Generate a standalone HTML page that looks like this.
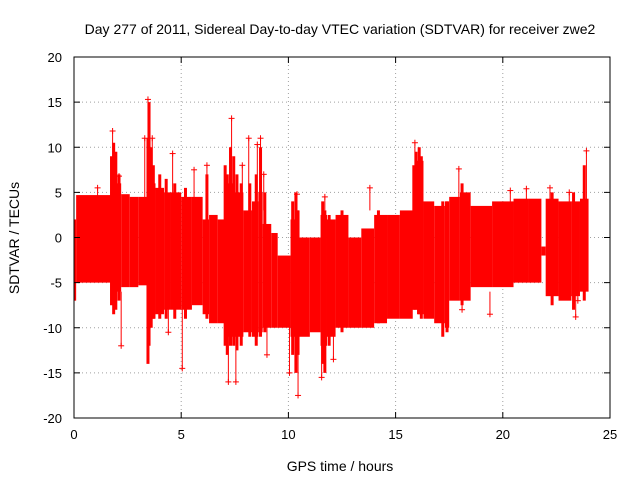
<!DOCTYPE html>
<html><head><meta charset="utf-8"><style>
body{margin:0;background:#fff;}
svg{display:block;font-family:"Liberation Sans",sans-serif;}
</style></head><body>
<svg id="chart" width="640" height="480"></svg>
<script>
// segments: start hour, end hour, upper, lower
const segStart=[0,0.1,1.7,1.8,2.0,2.2,2.6,3.0,3.4,3.55,3.8,4.2,4.5,5.0,5.5,6.0,6.3,6.7,7.0,7.2,7.5,7.9,8.3,8.6,8.8,9.2,9.5,10.1,10.3,10.5,11.0,11.5,11.8,12.2,12.8,13.4,14.0,14.6,15.2,15.8,16.0,16.3,16.8,17.3,17.5,18.0,18.5,19.5,20.5,21.2,21.8,22.0,22.6,23.2,23.6];
const segEnd  =[0.1,1.7,1.8,2.0,2.2,2.6,3.0,3.4,3.55,3.8,4.2,4.5,5.0,5.5,6.0,6.3,6.7,7.0,7.2,7.5,7.9,8.3,8.6,8.8,9.2,9.5,10.1,10.3,10.5,11.0,11.5,11.8,12.2,12.8,13.4,14.0,14.6,15.2,15.8,16.0,16.3,16.8,17.3,17.5,18.0,18.5,19.5,20.5,21.2,21.8,22.0,22.6,23.2,23.6,24.0];
const upper=[2,4.7,7,9,6,4.8,4.5,4.5,6,6,5.5,5,5,4.5,4.5,2,2.5,2,5,6,5,3,4,5,1.5,0.5,-2,2,3,0,0,2.5,2,2.5,0,1,2.5,2.5,3,6,8.5,4,3.5,4,4.5,5,3.5,4,4.3,4.3,-1,4.3,4,4,4.3];
const lower=[-7,-5,-6.5,-7,-6,-5.5,-5.5,-5.3,-9,-9,-8.5,-8,-8,-8,-7.5,-8.5,-9.5,-9.5,-11,-11,-11,-10.5,-11,-10.5,-10,-10,-10,-11,-12,-11,-10.5,-12,-11,-10,-10,-10,-9.5,-9,-9,-8,-8.5,-9,-9.5,-10,-7,-7,-5.5,-5.5,-5,-5,-2,-6.5,-7,-6.5,-6];
// thin dense spikes
const spikeX=[1.75,1.85,1.95,2.1,3.45,3.5,3.6,3.7,4.0,4.3,4.7,5.2,6.2,7.05,7.15,7.3,7.45,7.6,7.8,8.2,8.5,8.7,8.9,10.2,10.35,10.45,11.6,11.7,11.9,12.5,14.2,15.85,15.95,16.1,16.2,17.2,17.4,18.1,22.3,23.3,23.8];
const spikeHi=[9,10.5,9.5,7,11,15,10,8,7,6.5,6,5.5,7,8,7,10,9,7,6,6,7,10,5,4,5,3,4,3,2.5,3,3,8,9.5,10,9,4,4,6,5,5,8];
const spikeLo=[-7.5,-8.5,-8,-7,-14,-12,-10,-9,-9,-9,-9,-9,-9,-12,-13,-12,-12,-12.5,-12,-11,-12,-11,-10.5,-13,-15,-13,-14,-15,-12,-10.5,-9.5,-8,-8,-8.5,-9,-11,-10.5,-7.5,-7.5,-8,-7];
// scattered outlier points
const outX=[1.8,2.2,3.3,3.45,3.65,4.6,5.6,7.2,7.35,7.55,8.15,8.55,8.7,8.85,10.05,10.4,10.45,11.55,11.7,13.8,15.9,17.95,18.1,20.35,22.2,23.1,23.4,23.9,1.1,2.1,4.4,5.05,6.2,7.85,9.0,12.1,19.4,23.5,21.1];
const outY=[11.8,-12,11,15.3,11,9.3,7.5,-16,13.2,-16,11,10.3,11,7,-15,4.8,-17.5,-15.5,4.5,5.5,10.5,7.6,-8,5.2,5.5,5,-8.8,9.6,5.5,6.8,-10.5,-14.5,8,8,-13,-13.5,-8.5,-7,5.4];
const xTicks=[0,5,10,15,20,25];
const yTicks=[-20,-15,-10,-5,0,5,10,15,20];

const L=74,R=610,T=57,B=418;
const xs=v=>L+(v-0)/(25)*(R-L);
const ys=v=>B-(v+20)/40*(B-T);
const svg=document.getElementById('chart');
const NS='http://www.w3.org/2000/svg';
function mk(tag,attrs,parent){const e=document.createElementNS(NS,tag);for(const k in attrs)e.setAttribute(k,attrs[k]);(parent||svg).appendChild(e);return e;}

// grid
const grid=mk('g',{});


xTicks.forEach(v=>{if(v>0&&v<25)mk('line',{x1:xs(v),x2:xs(v),y1:T,y2:B,stroke:'#a0a0a0','stroke-dasharray':'1,3','stroke-width':1},grid);});
yTicks.forEach(v=>{if(v>-20&&v<20)mk('line',{x1:L,x2:R,y1:ys(v),y2:ys(v),stroke:'#a0a0a0','stroke-dasharray':'1,3','stroke-width':1},grid);});

// data
const data=mk('g',{fill:'#f00',stroke:'#f00'});


segStart.forEach((s,i)=>{
  const r=mk('rect',{x:xs(s),y:ys(upper[i]),width:Math.max(1,xs(segEnd[i])-xs(s)),height:ys(lower[i])-ys(upper[i]),stroke:'none'},data);
  
  
});
spikeX.forEach((x,i)=>{
  const l=mk('line',{x1:xs(x),x2:xs(x),y1:ys(spikeHi[i]),y2:ys(spikeLo[i]),'stroke-width':3},data);
  
  
});
outX.forEach((x,i)=>{
  const cx=xs(x),cy=ys(outY[i]);
  const g=mk('g',{},data);
  
  
  const ref=outY[i]>0?3:-6;
  mk('line',{x1:cx,x2:cx,y1:cy,y2:ys(ref),'stroke-width':1},g);
  mk('line',{x1:cx-3,x2:cx+3,y1:cy,y2:cy,'stroke-width':1},g);
  mk('line',{x1:cx,x2:cx,y1:cy-3,y2:cy+3,'stroke-width':1},g);
});

// border
const border=mk('rect',{x:L,y:T,width:R-L,height:B-T,fill:'none',stroke:'#000','stroke-width':1});



// ticks
xTicks.forEach(v=>{
  mk('line',{x1:xs(v),x2:xs(v),y1:B,y2:B-6,stroke:'#000'});
  mk('line',{x1:xs(v),x2:xs(v),y1:T,y2:T+6,stroke:'#000'});
  const t=mk('text',{x:xs(v),y:B+21,'text-anchor':'middle','font-size':13});
  t.textContent=v;
  
  
});
yTicks.forEach(v=>{
  mk('line',{x1:L,x2:L+6,y1:ys(v),y2:ys(v),stroke:'#000'});
  mk('line',{x1:R,x2:R-6,y1:ys(v),y2:ys(v),stroke:'#000'});
  const t=mk('text',{x:L-12,y:ys(v)+5,'text-anchor':'end','font-size':13});
  t.textContent=v;
  
  
});

const title=mk('text',{x:340,y:34,'text-anchor':'middle','font-size':14});
title.textContent='Day 277 of 2011, Sidereal Day-to-day VTEC variation (SDTVAR) for receiver zwe2';


const xt=mk('text',{x:340,y:471,'text-anchor':'middle','font-size':14});
xt.textContent='GPS time / hours';


const yt=mk('text',{x:0,y:0,'text-anchor':'middle','font-size':14,transform:'translate(19,238) rotate(-90)'});
yt.textContent='SDTVAR / TECUs';


</script>
</body></html>
